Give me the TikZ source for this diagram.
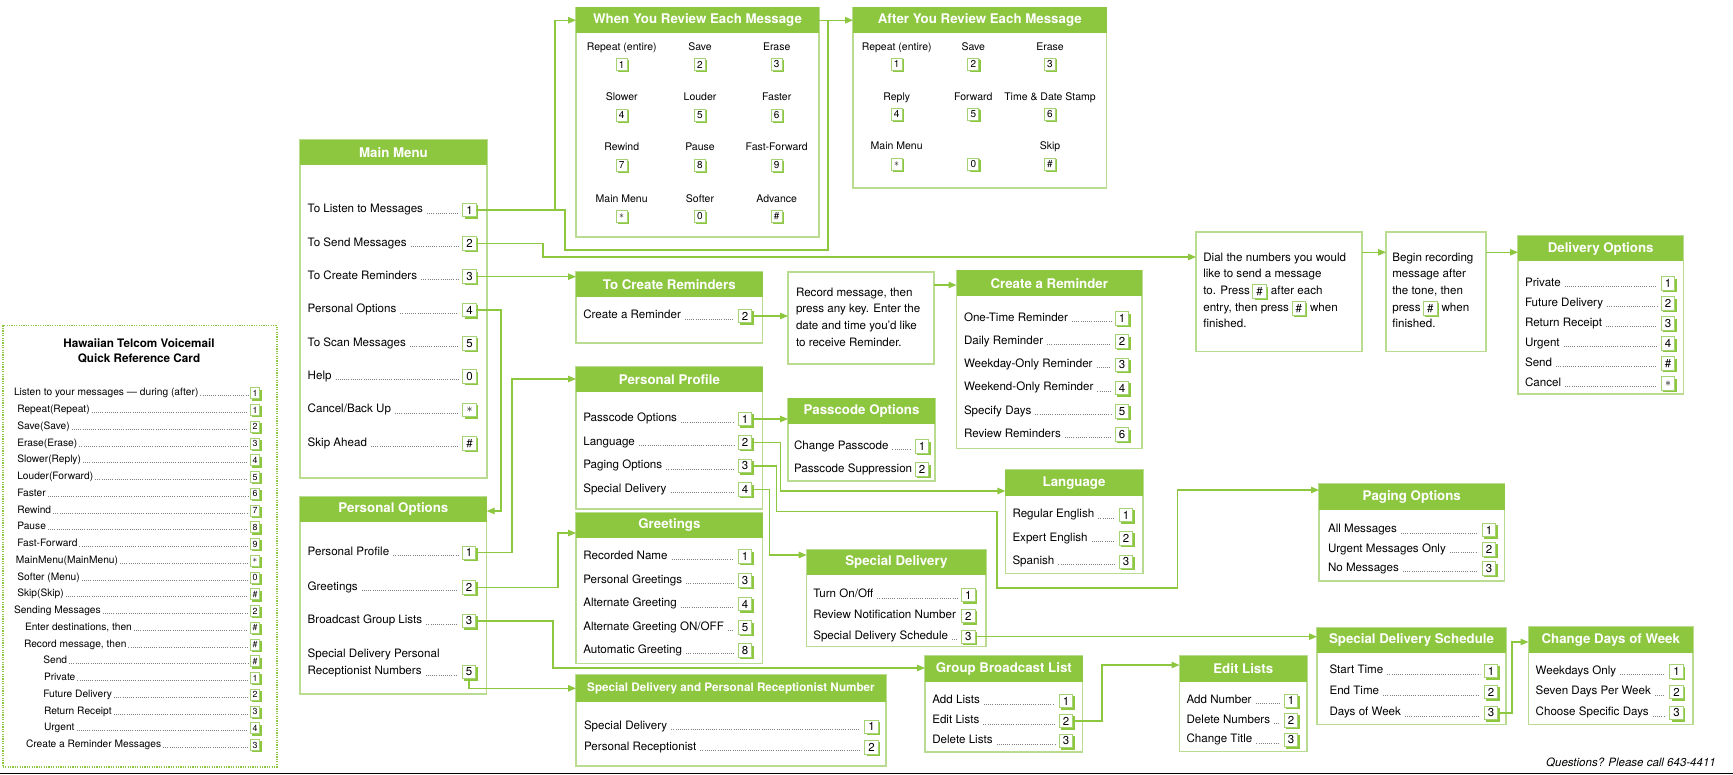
\documentclass[tikz,border=0pt]{standalone}
\usepackage{fontspec}
\setmainfont{TeX Gyre Heros}
\usetikzlibrary{arrows.meta,shadows,calc}
\definecolor{headgreen}{RGB}{141,198,63}
\definecolor{boxgreen}{RGB}{185,220,145}
\definecolor{keyedge}{RGB}{165,210,115}
\definecolor{linegreen}{RGB}{141,198,63}
\tikzset{
 panelbox/.style={draw=boxgreen, line width=1.2pt, fill=white, inner sep=0pt, outer sep=0pt},
 panelhead/.style={fill=headgreen, text=white, inner sep=0pt, outer sep=0pt, minimum height=25.5pt, font=\bfseries\fontsize{13.3}{14}\selectfont},
 rowtxt/.style={inner sep=0pt, outer sep=0pt, text height=8pt, text depth=2.2pt, font=\fontsize{11.6}{13}\selectfont},
 ctxt/.style={rowtxt, text height=7pt, text depth=2pt, font=\fontsize{10.2}{11}\selectfont},
 gtxt/.style={rowtxt, font=\fontsize{10.5}{12}\selectfont},
 keybox/.style={draw=keyedge, line width=0.9pt, fill=white, inner sep=0pt, outer sep=0pt, minimum width=13.5pt, minimum height=13.5pt, font=\fontsize{11.5}{11.5}\selectfont, drop shadow={shadow xshift=1.8pt, shadow yshift=-1.8pt, fill=headgreen, opacity=1}},
 gkey/.style={minimum width=11pt, minimum height=12pt, font=\fontsize{10}{10}\selectfont, drop shadow={shadow xshift=1.5pt, shadow yshift=-1.5pt, fill=headgreen, opacity=1}},
 ckey/.style={minimum width=9.5pt, minimum height=11pt, font=\fontsize{8.8}{8.8}\selectfont},
 dotlead/.style={draw=black!50, line width=0.65pt, dash pattern=on 0.65pt off 1.5pt, shorten <=4pt, shorten >=4.5pt},
 conn/.style={draw=linegreen, line width=1.3pt},
 arrline/.style={conn, -{Triangle[length=8pt,width=6.5pt]}},
 cardbox/.style={draw=headgreen, line width=1.5pt, dash pattern=on 1.2pt off 1.2pt, inner sep=0pt, fill=white},
}
\newcommand{\pnl}[7][]{%
  \node[panelbox, minimum width={(#5)-(#3)}, minimum height={(#6)-(#4)}, anchor=north west] (#2) at (#3,#4) {};
  \node[panelhead, #1, minimum width={(#5)-(#3)}, anchor=north west] (#2h) at (#3,#4) {#7};}
\newcommand{\plain}[5]{%
  \node[panelbox, minimum width={(#4)-(#2)}, minimum height={(#5)-(#3)}, anchor=north west] (#1) at (#2,#3) {};}
\newcommand{\rw}[6]{%
  \node[rowtxt, anchor=west] (#1t) at (#2,#3) {#4};
  \node[keybox] (#1) at (#5,#3) {#6};
  \draw[dotlead] ([yshift=-2.9pt]#1t.east) -- ([yshift=-2.9pt]#1.west);}
\newcommand{\rwn}[6]{%
  \node[rowtxt, anchor=west] (#1t) at (#2,#3) {#4};
  \node[keybox] (#1) at (#5,#3) {#6};}
\newcommand{\crw}[4]{%
  \node[ctxt, anchor=west] (#1t) at (#2,#3) {#4};}
\newcommand{\ck}[3]{%
  \node[keybox, ckey] (#1) at (255,#2) {#3};
  \draw[dotlead, shorten <=2pt, shorten >=2.5pt] ([yshift=-2.5pt]#1t.east) -- ([yshift=-2.5pt]#1.west);}
\newcommand{\gc}[6]{%
  \node[gtxt] (#1t) at (#2,#3) {#5};
  \node[keybox, gkey] (#1) at (#2,#4) {#6};}
\newcommand{\kast}{$\ast$}
\begin{document}
\begin{tikzpicture}[x=1pt,y=-1pt]
\useasboundingbox (0,0) rectangle (1733,775);

% ---------------- Quick reference card
\node[cardbox, minimum width=274pt, minimum height=441pt, anchor=north west] (card) at (2,325) {};
\node[inner sep=0pt, font=\bfseries\fontsize{11.7}{13}\selectfont] (ct1) at (139,343) {Hawaiian Telcom Voicemail};
\node[inner sep=0pt, font=\bfseries\fontsize{11.7}{13}\selectfont] (ct2) at (139,358.5) {Quick Reference Card};
\crw{c0}{14}{393.3}{Listen to your messages — during (after)}\ck{c0}{393.3}{1}
\crw{c1}{17.3}{410.05}{Repeat(Repeat)}\ck{c1}{410.05}{1}
\crw{c2}{17.3}{426.8}{Save(Save)}\ck{c2}{426.8}{2}
\crw{c3}{17.3}{443.55}{Erase(Erase)}\ck{c3}{443.55}{3}
\crw{c4}{17.3}{460.3}{Slower(Reply)}\ck{c4}{460.3}{4}
\crw{c5}{17.3}{477.05}{Louder(Forward)}\ck{c5}{477.05}{5}
\crw{c6}{17.3}{493.8}{Faster}\ck{c6}{493.8}{6}
\crw{c7}{17.3}{510.55}{Rewind}\ck{c7}{510.55}{7}
\crw{c8}{17.3}{527.3}{Pause}\ck{c8}{527.3}{8}
\crw{c9}{17.3}{544.05}{Fast-Forward}\ck{c9}{544.05}{9}
\crw{c10}{16}{560.8}{MainMenu(MainMenu)}\ck{c10}{560.8}{\kast}
\crw{c11}{17.3}{577.55}{Softer (Menu)}\ck{c11}{577.55}{0}
\crw{c12}{17.3}{594.3}{Skip(Skip)}\ck{c12}{594.3}{\#}
\crw{c13}{14}{611.05}{Sending Messages}\ck{c13}{611.05}{2}
\crw{c14}{25}{627.8}{Enter destinations, then}\ck{c14}{627.8}{\#}
\crw{c15}{24}{644.55}{Record message, then}\ck{c15}{644.55}{\#}
\crw{c16}{43.3}{661.3}{Send}\ck{c16}{661.3}{\#}
\crw{c17}{44}{678.05}{Private}\ck{c17}{678.05}{1}
\crw{c18}{43.3}{694.8}{Future Delivery}\ck{c18}{694.8}{2}
\crw{c19}{44}{711.55}{Return Receipt}\ck{c19}{711.55}{3}
\crw{c20}{44}{728.3}{Urgent}\ck{c20}{728.3}{4}
\crw{c21}{26}{745.05}{Create a Reminder Messages}\ck{c21}{745.05}{3}

% ---------------- panels
\pnl{mm}{300}{140}{487}{478}{Main Menu}
\pnl{wy}{576}{7.5}{819}{237}{When You Review Each Message}
\pnl{ay}{853}{7.5}{1106.5}{188}{After You Review Each Message}
\pnl{tc}{576}{272}{762.7}{343}{To Create Reminders}
\pnl{cr}{956.5}{270.5}{1142}{448.5}{Create a Reminder}
\pnl{pp}{576}{367}{762.7}{509}{Personal Profile}
\pnl{gr}{576}{512.7}{762.7}{663.3}{Greetings}
\pnl{pc}{788}{398.5}{935}{481}{Passcode Options}
\pnl{lg}{1005.4}{470}{1142.9}{573.3}{Language}
\pnl{pg}{1319}{484}{1504.5}{581}{Paging Options}
\pnl{sd}{806.7}{549.5}{986}{646.5}{Special Delivery}
\pnl{sds}{1317}{627.5}{1506}{724.5}{Special Delivery Schedule}
\pnl{cdw}{1528.5}{627}{1693}{724.5}{Change Days of Week}
\pnl{el}{1179.5}{656}{1307}{751.7}{Edit Lists}
\pnl{gb}{925}{656}{1082.7}{752}{Group Broadcast List}
\pnl[font=\bfseries\fontsize{11.7}{13}\selectfont, minimum height=26.7pt]{sdp}{576}{675}{886}{766}{Special Delivery and Personal Receptionist Number}
\pnl{po}{300}{496.5}{486.7}{694}{Personal Options}
\pnl{dv}{1518}{236}{1683.3}{394}{Delivery Options}
\plain{rec}{788}{272}{934}{364}
\plain{dial}{1196}{232}{1362}{351.5}
\plain{bgn}{1386}{232}{1486}{351.5}

% Main Menu rows
\rw{mm1}{307.7}{210}{To Listen to Messages}{469.5}{1}
\rw{mm2}{307.7}{243.3}{To Send Messages}{469.5}{2}
\rw{mm3}{307.7}{276.7}{To Create Reminders}{469.5}{3}
\rw{mm4}{307.7}{310}{Personal Options}{469.5}{4}
\rw{mm5}{307.7}{343.3}{To Scan Messages}{469.5}{5}
\rw{mm6}{307.7}{376.7}{Help}{469.5}{0}
\rw{mm7}{307.7}{410}{Cancel/Back Up}{469.5}{\kast}
\rw{mm8}{307.7}{443.3}{Skip Ahead}{469.5}{\#}

% When You Review grid
\gc{wy1}{621.7}{48}{64.5}{Repeat (entire)}{1}
\gc{wy2}{700}{48}{64.5}{Save}{2}
\gc{wy3}{776.7}{48}{64.5}{Erase}{3}
\gc{wy4}{621.7}{98}{115}{Slower}{4}
\gc{wy5}{700}{98}{115}{Louder}{5}
\gc{wy6}{776.7}{98}{115}{Faster}{6}
\gc{wy7}{621.7}{148}{165.5}{Rewind}{7}
\gc{wy8}{700}{148}{165.5}{Pause}{8}
\gc{wy9}{776.7}{148}{165.5}{Fast-Forward}{9}
\gc{wy10}{621.7}{199.5}{216.5}{Main Menu}{\kast}
\gc{wy11}{700}{199.5}{216.5}{Softer}{0}
\gc{wy12}{776.7}{199.5}{216.5}{Advance}{\#}

% After You Review grid
\gc{ay1}{896.7}{48}{64}{Repeat (entire)}{1}
\gc{ay2}{973.3}{48}{64}{Save}{2}
\gc{ay3}{1050}{48}{64}{Erase}{3}
\gc{ay4}{896.7}{98}{114}{Reply}{4}
\gc{ay5}{973.3}{98}{114}{Forward}{5}
\gc{ay6}{1050}{98}{114}{Time \& Date Stamp}{6}
\gc{ay7}{896.7}{147}{164}{Main Menu}{\kast}
\node[keybox, gkey] (ay8) at (973.3,164) {0};
\gc{ay9}{1050}{147}{164}{Skip}{\#}

% To Create Reminders
\rw{tc1}{583.3}{316}{Create a Reminder}{745}{2}
\node[rowtxt, anchor=west] (r1) at (796,293.3) {Record message, then};
\node[rowtxt, anchor=west] (r2) at (796,310) {press any key. Enter the};
\node[rowtxt, anchor=west] (r3) at (796,326.7) {date and time you'd like};
\node[rowtxt, anchor=west] (r4) at (796,343.3) {to receive Reminder.};

% Create a Reminder
\rw{cr1}{964}{318.5}{One-Time Reminder}{1122}{1}
\rw{cr2}{964}{341.7}{Daily Reminder}{1122}{2}
\rw{cr3}{964}{364.9}{Weekday-Only Reminder}{1122}{3}
\rw{cr4}{964}{388.1}{Weekend-Only Reminder}{1122}{4}
\rw{cr5}{964}{411.3}{Specify Days}{1122}{5}
\rw{cr6}{964}{434.5}{Review Reminders}{1122}{6}

% Personal Profile
\rw{pp1}{583.3}{419}{Passcode Options}{745}{1}
\rw{pp2}{583.3}{442.5}{Language}{745}{2}
\rw{pp3}{583.3}{466}{Paging Options}{745}{3}
\rw{pp4}{583.3}{489.5}{Special Delivery}{745}{4}

% Greetings
\rw{gr1}{583.3}{556.5}{Recorded Name}{745}{1}
\rw{gr2}{583.3}{580.5}{Personal Greetings}{745}{3}
\rw{gr3}{583.3}{604}{Alternate Greeting}{745}{4}
\rw{gr4}{583.3}{627.5}{Alternate Greeting ON/OFF}{745}{5}
\rw{gr5}{583.3}{650.5}{Automatic Greeting}{745}{8}

% Passcode Options
\rw{pc1}{794}{446.5}{Change Passcode}{922}{1}
\rwn{pc2}{794}{469.5}{Passcode Suppression}{922}{2}

% Language
\rw{lg1}{1012.5}{515}{Regular English}{1126}{1}
\rw{lg2}{1012.5}{538.3}{Expert English}{1126}{2}
\rw{lg3}{1012.5}{561.7}{Spanish}{1126}{3}

% Paging Options
\rw{pg1}{1328}{530}{All Messages}{1489}{1}
\rw{pg2}{1328}{549.3}{Urgent Messages Only}{1489}{2}
\rw{pg3}{1328}{568.5}{No Messages}{1489}{3}

% Special Delivery
\rw{sd1}{813.3}{595}{Turn On/Off}{968.3}{1}
\rwn{sd2}{813.3}{616}{Review Notification Number}{968.3}{2}
\rw{sd3}{813.3}{636.7}{Special Delivery Schedule}{968.3}{3}

% Special Delivery Schedule
\rw{sds1}{1329.5}{671}{Start Time}{1491}{1}
\rw{sds2}{1329.5}{692}{End Time}{1491}{2}
\rw{sds3}{1329.5}{713}{Days of Week}{1491}{3}

% Change Days of Week
\rw{cdw1}{1535.7}{671.5}{Weekdays Only}{1676.5}{1}
\rw{cdw2}{1535.7}{692}{Seven Days Per Week}{1676.5}{2}
\rw{cdw3}{1535.7}{713}{Choose Specific Days}{1676.5}{3}

% Edit Lists
\rw{el1}{1186.6}{700.7}{Add Number}{1291}{1}
\rw{el2}{1186.6}{720.3}{Delete Numbers}{1291}{2}
\rw{el3}{1186.6}{740}{Change Title}{1291}{3}

% Group Broadcast List
\rw{gb1}{932.3}{701}{Add Lists}{1066}{1}
\rw{gb2}{932.3}{721}{Edit Lists}{1066}{2}
\rw{gb3}{932.3}{741}{Delete Lists}{1066}{3}

% Special Delivery and Personal Receptionist Number
\rw{sdp1}{584}{726.7}{Special Delivery}{871.5}{1}
\rw{sdp2}{584}{747.3}{Personal Receptionist}{871.5}{2}

% Personal Options
\rw{po1}{307.7}{552.7}{Personal Profile}{469}{1}
\rw{po2}{307.7}{587.3}{Greetings}{469}{2}
\rw{po3}{307.7}{621}{Broadcast Group Lists}{469}{3}
\node[rowtxt, anchor=west] (po4t) at (307.7,655) {Special Delivery Personal};
\rw{po5}{307.7}{672}{Receptionist Numbers}{469}{5}

% Delivery Options
\rw{dv1}{1525}{283.5}{Private}{1668}{1}
\rw{dv2}{1525}{303.5}{Future Delivery}{1668}{2}
\rw{dv3}{1525}{323.5}{Return Receipt}{1668}{3}
\rw{dv4}{1525}{343.5}{Urgent}{1668}{4}
\rw{dv5}{1525}{363.5}{Send}{1668}{\#}
\rw{dv6}{1525}{383.5}{Cancel}{1668}{\kast}

% Dial box text
\node[rowtxt, anchor=west] (d1) at (1203.3,258.3) {Dial the numbers you would};
\node[rowtxt, anchor=west] (d2) at (1203.3,275) {like to send a message};
\node[rowtxt, anchor=west] (d3) at (1203.3,291.7) {to. Press};
\node[keybox, anchor=west] (dk1) at ([xshift=3pt]d3.east) {\#};
\node[rowtxt, anchor=west] (d3b) at ([xshift=4.5pt]dk1.east) {after each};
\node[rowtxt, anchor=west] (d4) at (1203.3,308.3) {entry, then press};
\node[keybox, anchor=west] (dk2) at ([xshift=3pt]d4.east) {\#};
\node[rowtxt, anchor=west] (d4b) at ([xshift=4.5pt]dk2.east) {when};
\node[rowtxt, anchor=west] (d5) at (1203.3,325) {finished.};

% Begin box text
\node[rowtxt, anchor=west] (b1) at (1392.3,258.3) {Begin recording};
\node[rowtxt, anchor=west] (b2) at (1392.3,275) {message after};
\node[rowtxt, anchor=west] (b3) at (1392.3,291.7) {the tone, then};
\node[rowtxt, anchor=west] (b4) at (1392.3,308.3) {press};
\node[keybox, anchor=west] (bk1) at ([xshift=3pt]b4.east) {\#};
\node[rowtxt, anchor=west] (b4b) at ([xshift=4.5pt]bk1.east) {when};
\node[rowtxt, anchor=west] (b5) at (1392.3,325) {finished.};

% ---------------- connectors
\coordinate (x1) at (555,0);
\coordinate (x1b) at (565,250);
\coordinate (x1c) at (828,0);
\draw[arrline] (mm1.east) -- (mm1.east -| x1) |- (wyh.west);
\draw[conn] (mm1.east -| x1) -| (x1b) -| (x1c |- wyh.east);
\draw[arrline] (wyh.east) -- (ayh.west);
\coordinate (x2) at (543,257);
\draw[arrline] (mm2.east) -| (x2) -- (x2 -| dial.west);
\draw[arrline] (mm3.east) -- (mm3.east -| tch.west);
\coordinate (x4) at (501,511);
\draw[arrline] (mm4.east) -| (x4) -- (x4 -| poh.east);
\draw[arrline] (tc1.east) -- (tc1.east -| rec.west);
\coordinate (x6) at (934,285);
\draw[arrline] (rec.east |- x6) -- (x6 -| crh.west);
\draw[arrline] (pp1.east) -- (pp1.east -| pch.west);
\coordinate (x8) at (780.7,491);
\draw[arrline] (pp2.east) -| (x8) -- (x8 -| lgh.west);
\coordinate (x9a) at (776.7,511.7);
\coordinate (x9b) at (997,588);
\coordinate (x9c) at (1177.5,490);
\draw[arrline] (pp3.east) -| (x9a) -| (x9b) -| (x9c) -- (x9c -| pgh.west);
\coordinate (x10) at (769.3,555);
\draw[arrline] (pp4.east) -| (x10) -- (x10 -| sdh.west);
\draw[arrline] (sd3.east) -- (sd3.east -| sdsh.west);
\coordinate (x12) at (1512,642);
\draw[arrline] (sds3.east) -| (x12) -- (x12 -| cdwh.west);
\coordinate (x13) at (512,379);
\draw[arrline] (po1.east) -| (x13) -- (x13 -| pph.west);
\coordinate (x14) at (558,533);
\draw[arrline] (po2.east) -| (x14) -- (x14 -| grh.west);
\coordinate (x15) at (553,668);
\draw[arrline] (po3.east) -| (x15) -- (x15 -| gbh.west);
\draw[arrline] (po5.south) |- (sdph.west);
\coordinate (x17) at (1102,665);
\draw[arrline] (gb2.east) -| (x17) -- (x17 -| elh.west);
\coordinate (x18) at (0,252.3);
\draw[arrline] (dial.east |- x18) -- (x18 -| bgn.west);
\draw[arrline] (bgn.east |- x18) -- (x18 -| dvh.west);

% footer
\node[inner sep=0pt, anchor=east, font=\itshape\fontsize{11.5}{13}\selectfont] (q) at (1716,762.6) {Questions? Please call 643-4411};
\coordinate (bl) at (0,773.5);
\coordinate (br) at (1733,773.5);
\draw[black, line width=1.5pt] (bl) -- (br);
\end{tikzpicture}
\end{document}
